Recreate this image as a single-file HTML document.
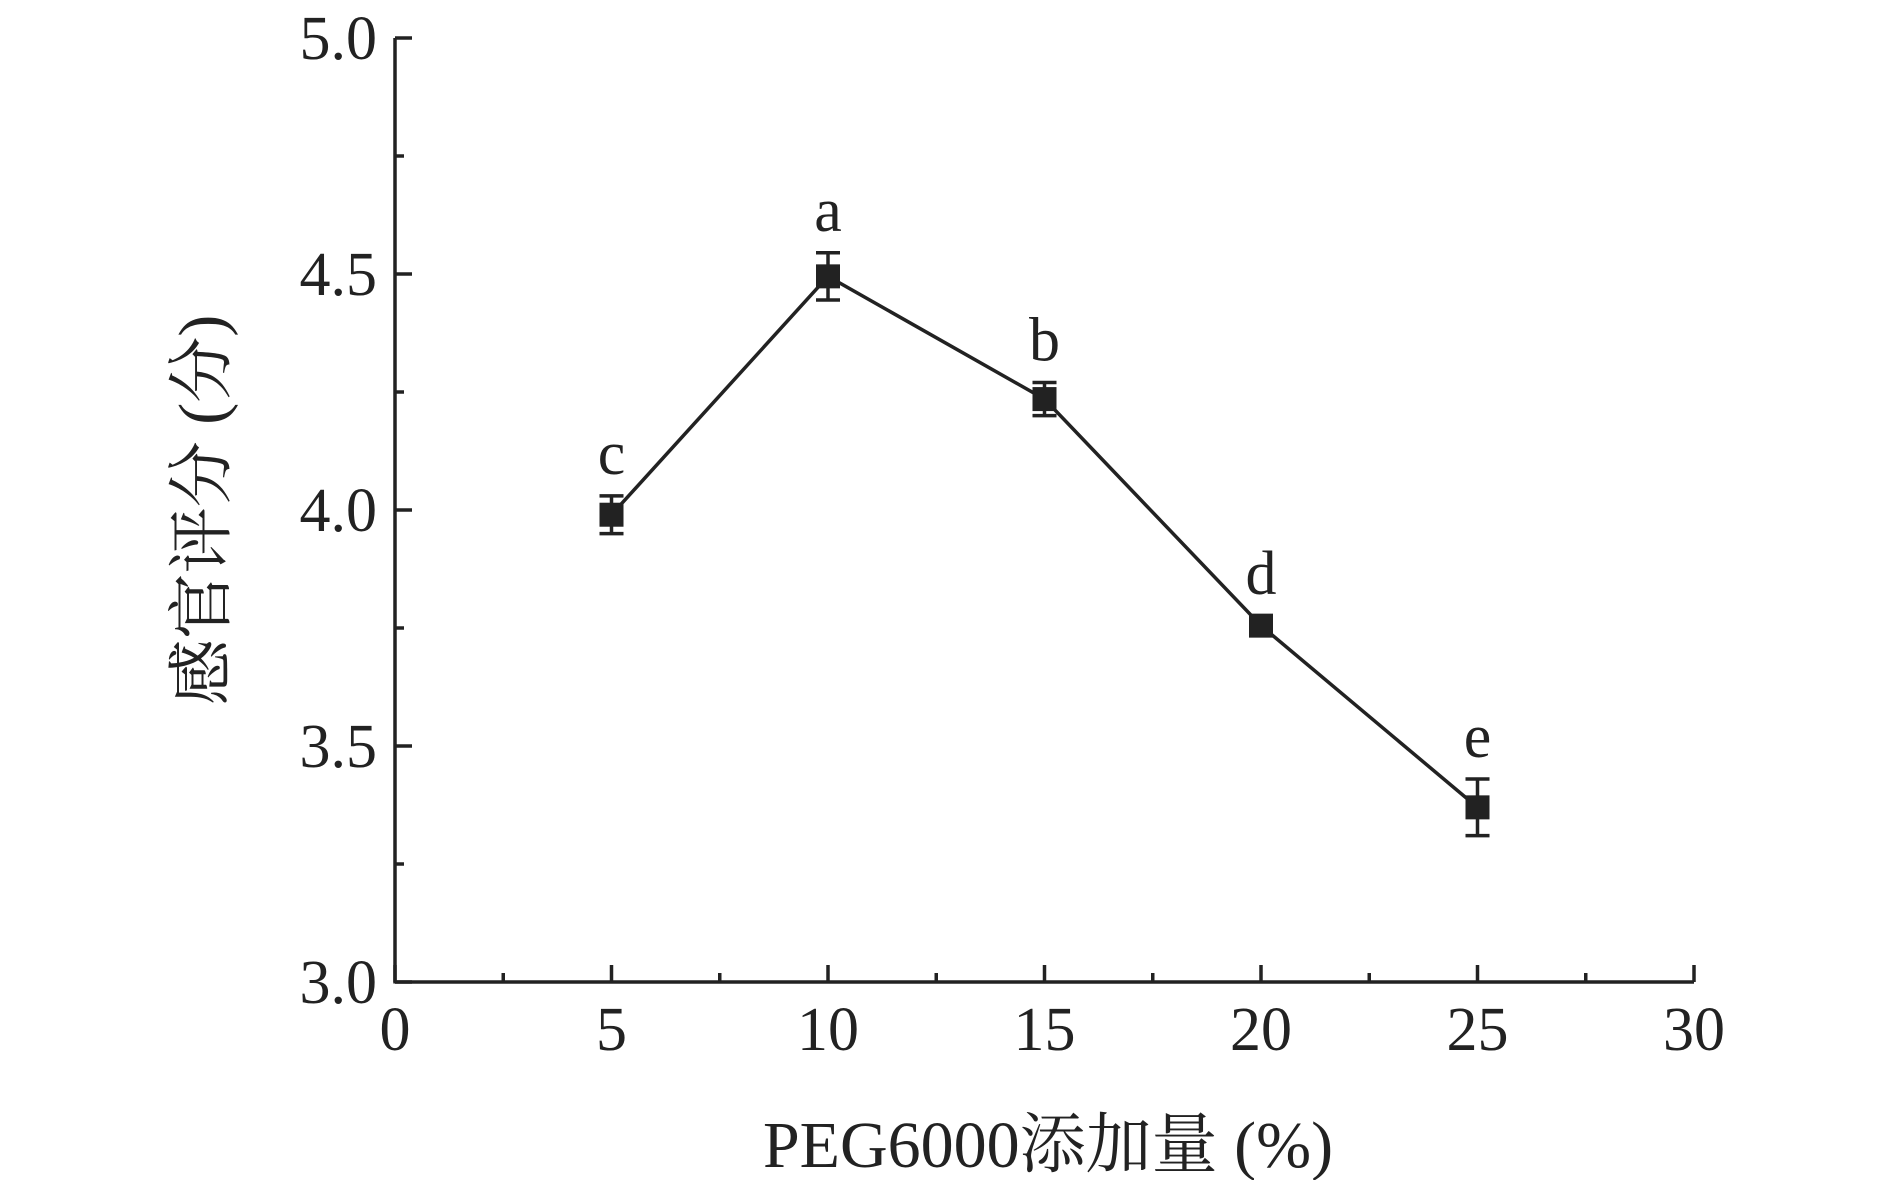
<!DOCTYPE html>
<html><head><meta charset="utf-8"><style>
html,body{margin:0;padding:0;background:#fff;}
svg{display:block;font-family:"Liberation Serif","Noto Serif CJK SC",serif;}
</style></head><body>
<svg id="chart" width="1890" height="1180" viewBox="0 0 1890 1180" xmlns="http://www.w3.org/2000/svg">
<g id="axes"></g>
<g id="series"></g>
<text x="1048" y="1167" font-size="66" text-anchor="middle" fill="#222">PEG6000添加量 (%)</text>
<text transform="translate(224,510) rotate(-90)" font-size="66" text-anchor="middle" fill="#222">感官评分 (分)</text>
</svg>
<script>
const xValues = [5, 10, 15, 20, 25];
const yValues = [3.99, 4.495, 4.235, 3.755, 3.37];
const yErrors = [0.04, 0.05, 0.035, 0.02, 0.06];
const sigLetters = ['c', 'a', 'b', 'd', 'e'];
const xTicks = [0, 5, 10, 15, 20, 25, 30];
const yTicks = ['3.0', '3.5', '4.0', '4.5', '5.0'];

const NS = 'http://www.w3.org/2000/svg';
const X0 = 395, X1 = 1694, Y0 = 982, Y1 = 38;
const xMin = 0, xMax = 30, yMin = 3, yMax = 5;
function sx(v){ return X0 + (v - xMin) / (xMax - xMin) * (X1 - X0); }
function sy(v){ return Y0 - (v - yMin) / (yMax - yMin) * (Y0 - Y1); }
function mk(tag, attrs, parent){
  const e = document.createElementNS(NS, tag);
  for (const k in attrs) e.setAttribute(k, attrs[k]);
  parent.appendChild(e); return e;
}
const axes = document.getElementById('axes');
const series = document.getElementById('series');
const C = '#222';

let l = mk('line', {x1:X0, y1:Y0, x2:X1, y2:Y0, stroke:C, 'stroke-width':3.5}, axes);


l = mk('line', {x1:X0, y1:Y0+1.5, x2:X0, y2:Y1, stroke:C, 'stroke-width':3.5}, axes);



xTicks.forEach((t, i) => {
  const x = sx(t);
  const tk = mk('line', {x1:x, y1:Y0, x2:x, y2:Y0-17, stroke:C, 'stroke-width':3.5}, axes);
  
  
  const tx = mk('text', {x:x, y:Y0+68, 'font-size':62, 'text-anchor':'middle', fill:C}, axes);
  tx.textContent = t;
  
  
  if (i < xTicks.length - 1) {
    const mx = sx((t + xTicks[i+1]) / 2);
    const mt = mk('line', {x1:mx, y1:Y0, x2:mx, y2:Y0-9, stroke:C, 'stroke-width':3.5}, axes);
    
    
  }
});
yTicks.forEach((t, i) => {
  const v = parseFloat(t), y = sy(v);
  const tk = mk('line', {x1:X0, y1:y, x2:X0+17, y2:y, stroke:C, 'stroke-width':3.5}, axes);
  
  
  const tx = mk('text', {x:X0-18, y:y+21, 'font-size':62, 'text-anchor':'end', fill:C}, axes);
  tx.textContent = t;
  
  
  if (i < yTicks.length - 1) {
    const my = sy((v + parseFloat(yTicks[i+1])) / 2);
    const mt = mk('line', {x1:X0, y1:my, x2:X0+9, y2:my, stroke:C, 'stroke-width':3.5}, axes);
    
    
  }
});

const pts = xValues.map((x, i) => sx(x) + ',' + sy(yValues[i])).join(' ');
const pl = mk('polyline', {points:pts, fill:'none', stroke:C, 'stroke-width':3.5}, series);



xValues.forEach((xv, i) => {
  const x = sx(xv), y = sy(yValues[i]);
  const yt = sy(yValues[i] + yErrors[i]), yb = sy(yValues[i] - yErrors[i]);
  const g = mk('g', {}, series);
  
  
  mk('line', {x1:x, y1:yt, x2:x, y2:yb, stroke:C, 'stroke-width':3.5}, g);
  mk('line', {x1:x-12, y1:yt, x2:x+12, y2:yt, stroke:C, 'stroke-width':3.5}, g);
  mk('line', {x1:x-12, y1:yb, x2:x+12, y2:yb, stroke:C, 'stroke-width':3.5}, g);
  mk('rect', {x:x-12, y:y-12, width:24, height:24, fill:C}, g);
  const t = mk('text', {x:x, y:yt-22, 'font-size':62, 'text-anchor':'middle', fill:C}, series);
  t.textContent = sigLetters[i];
  
  
});
</script>
</body></html>
